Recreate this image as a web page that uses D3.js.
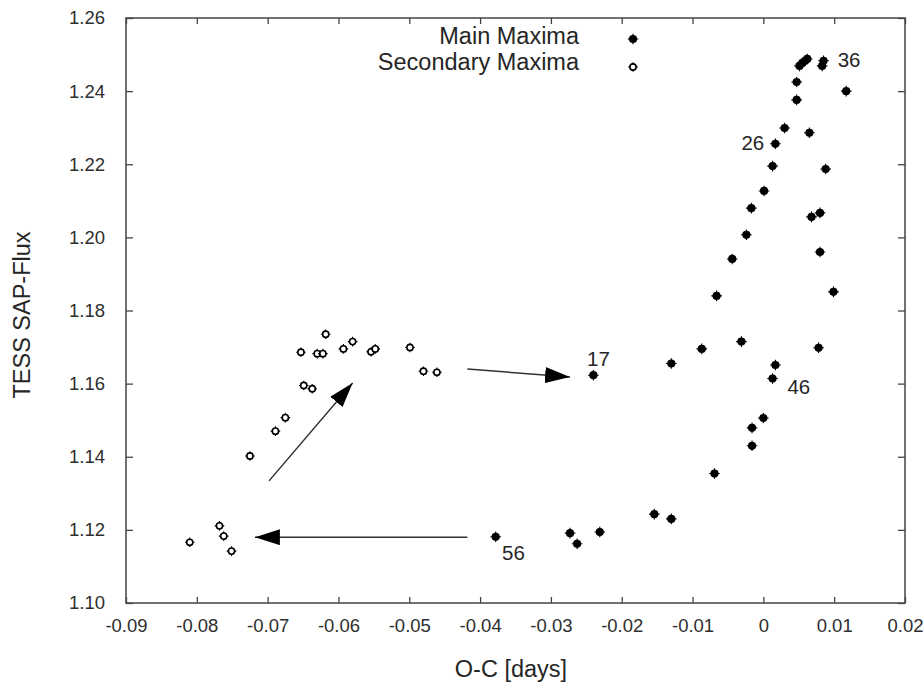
<!DOCTYPE html>
<html>
<head>
<meta charset="utf-8">
<script src="https://cdn.jsdelivr.net/npm/d3@7"></script>
<style>
  body { margin: 0; background: #fff; }
  text { font-family: "Liberation Sans", Arial, sans-serif; fill: #262626; }
</style>
</head>
<body>
<script>
// main maxima (filled), roughly in cycle order 17..56
const mainX = [-0.0240, -0.0130, -0.0087, -0.0031, -0.0066, -0.0044, -0.0024, -0.0017, 0.0001, 0.0013,
  0.0017, 0.0030, 0.0047, 0.0047, 0.0051, 0.0055, 0.0059, 0.0062, 0.0083, 0.0085,
  0.0117, 0.0065, 0.0088, 0.0080, 0.0068, 0.0080, 0.0099, 0.0078, 0.0017, 0.0013,
  0.0000, -0.0016, -0.0016, -0.0069, -0.0130, -0.0154, -0.0231, -0.0263, -0.0273, -0.0378]
const mainY = [1.1623, 1.1655, 1.1695, 1.1715, 1.1840, 1.1941, 1.2007, 1.2080, 1.2127, 1.2195,
  1.2256, 1.2299, 1.2376, 1.2425, 1.2469, 1.2477, 1.2483, 1.2488, 1.2469, 1.2483,
  1.2400, 1.2286, 1.2187, 1.2067, 1.2056, 1.1960, 1.1851, 1.1698, 1.1651, 1.1614,
  1.1506, 1.1479, 1.1430, 1.1354, 1.1230, 1.1243, 1.1194, 1.1162, 1.1191, 1.1181]

// secondary maxima (open)
const secX = [-0.0725, -0.0689, -0.0675, -0.0649, -0.0637, -0.0653, -0.0630, -0.0622, -0.0618, -0.0593,
  -0.0580, -0.0554, -0.0548, -0.0499, -0.0480, -0.0461, -0.0810, -0.0768, -0.0762, -0.0751]
const secY = [1.1402, 1.1470, 1.1507, 1.1595, 1.1586, 1.1686, 1.1682, 1.1682, 1.1735, 1.1695,
  1.1715, 1.1687, 1.1695, 1.1699, 1.1634, 1.1631, 1.1166, 1.1211, 1.1183, 1.1142]

// cycle number labels
const labelText = ['17', '26', '36', '46', '56']
const labelX = [-0.0249, -0.0031, 0.0105, 0.0034, -0.0369]
const labelY = [1.1648, 1.2239, 1.2466, 1.1572, 1.1118]

// arrows: start -> end
const arrowX1 = [-0.0418, -0.0698, -0.0418]
const arrowY1 = [1.1180, 1.1334, 1.1640]
const arrowX2 = [-0.0718, -0.0580, -0.0273]
const arrowY2 = [1.1180, 1.1602, 1.1618]

const xTicks = [-0.09, -0.08, -0.07, -0.06, -0.05, -0.04, -0.03, -0.02, -0.01, 0, 0.01, 0.02]
const yTicks = [1.10, 1.12, 1.14, 1.16, 1.18, 1.20, 1.22, 1.24, 1.26]

const w = 923
const h = 687
const margin = { top: 18, bottom: 84, left: 126, right: 18 }

const svg = d3.select('body')
  .append('svg')
  .attr('width', w)
  .attr('height', h)

const xScale = d3.scaleLinear()
  .domain([-0.09, 0.02])
  .range([margin.left, w - margin.right])

const yScale = d3.scaleLinear()
  .domain([1.10, 1.26])
  .range([h - margin.bottom, margin.top])

const fmtX = v => Math.abs(v) < 1e-9 ? '0' : (v < 0 ? '-' : '') + Math.abs(v).toFixed(2)
const fmtY = v => v.toFixed(2)

// axes with inward ticks on all four sides
svg.append('g')
  .attr('transform', `translate(0,${yScale.range()[0]})`)
  .call(d3.axisBottom(xScale).tickValues(xTicks).tickFormat(fmtX)
    .tickSizeInner(-6).tickSizeOuter(0).tickPadding(16))
svg.append('g')
  .attr('transform', `translate(0,${yScale.range()[1]})`)
  .call(d3.axisTop(xScale).tickValues(xTicks).tickFormat('')
    .tickSizeInner(-6).tickSizeOuter(0))
svg.append('g')
  .attr('transform', `translate(${xScale.range()[0]},0)`)
  .call(d3.axisLeft(yScale).tickValues(yTicks).tickFormat(fmtY)
    .tickSizeInner(-7).tickSizeOuter(0).tickPadding(21))
svg.append('g')
  .attr('transform', `translate(${xScale.range()[1]},0)`)
  .call(d3.axisRight(yScale).tickValues(yTicks).tickFormat('')
    .tickSizeInner(-7).tickSizeOuter(0))

svg.selectAll('.domain').remove()
svg.selectAll('.tick line').style('stroke', '#444').style('stroke-width', 1.3)
svg.selectAll('.tick text')
  .style('font-size', '18.5px')
  .style('font-family', '"Liberation Sans", Arial, sans-serif')
  .style('fill', '#2e2e2e')

// frame
svg.append('rect')
  .attr('x', xScale.range()[0])
  .attr('y', yScale.range()[1])
  .attr('width', xScale.range()[1] - xScale.range()[0])
  .attr('height', yScale.range()[0] - yScale.range()[1])
  .style('fill', 'none')
  .style('stroke', '#444')
  .style('stroke-width', 1.5)

// axis titles
svg.append('text')
  .attr('x', 511)
  .attr('y', 677)
  .attr('text-anchor', 'middle')
  .style('font-size', '23.5px')
  .text('O-C [days]')

svg.append('text')
  .attr('transform', 'translate(30,315) rotate(-90)')
  .attr('text-anchor', 'middle')
  .style('font-size', '23.5px')
  .text('TESS SAP-Flux')

// marker: small disc with short spikes
function marker(g, x, y, filled) {
  const m = g.append('g').attr('transform', `translate(${x},${y})`)
  m.append('path')
    .attr('d', filled ? 'M-5.3,0H5.3M0,-5.3V5.3' : 'M-4.8,0H4.8M0,-4.8V4.8')
    .style('stroke', '#000')
    .style('stroke-width', 1.1)
  m.append('circle')
    .attr('r', filled ? 4.1 : 3.1)
    .style('fill', filled ? '#000' : '#fff')
    .style('stroke', '#000')
    .style('stroke-width', filled ? 0 : 1.6)
}

// arrows
svg.append('defs')
  .append('marker')
  .attr('id', 'head')
  .attr('viewBox', '0 0 25 16')
  .attr('refX', 25)
  .attr('refY', 8)
  .attr('markerWidth', 25)
  .attr('markerHeight', 16)
  .attr('markerUnits', 'userSpaceOnUse')
  .attr('orient', 'auto')
  .append('path')
  .attr('d', 'M0,0L25,8L0,16Z')
  .style('fill', '#000')

arrowX1.forEach((x1, i) => {
  svg.append('line')
    .attr('x1', xScale(x1))
    .attr('y1', yScale(arrowY1[i]))
    .attr('x2', xScale(arrowX2[i]))
    .attr('y2', yScale(arrowY2[i]))
    .style('stroke', '#333')
    .style('stroke-width', 1.5)
    .attr('marker-end', 'url(#head)')
})

const pts = svg.append('g')
secX.forEach((x, i) => marker(pts, xScale(x), yScale(secY[i]), false))
mainX.forEach((x, i) => marker(pts, xScale(x), yScale(mainY[i]), true))

// cycle labels
labelText.forEach((t, i) => {
  svg.append('text')
    .attr('x', xScale(labelX[i]))
    .attr('y', yScale(labelY[i]))
    .style('font-size', '20.5px')
    .text(t)
})

// legend
const legend = svg.append('g')
const legendText = ['Main Maxima', 'Secondary Maxima']
legendText.forEach((t, i) => {
  legend.append('text')
    .attr('x', 579)
    .attr('y', 44 + i * 26)
    .attr('text-anchor', 'end')
    .style('font-size', '23.5px')
    .text(t)
  marker(legend, 633, 39 + i * 28, i === 0)
})
</script>
</body>
</html>
